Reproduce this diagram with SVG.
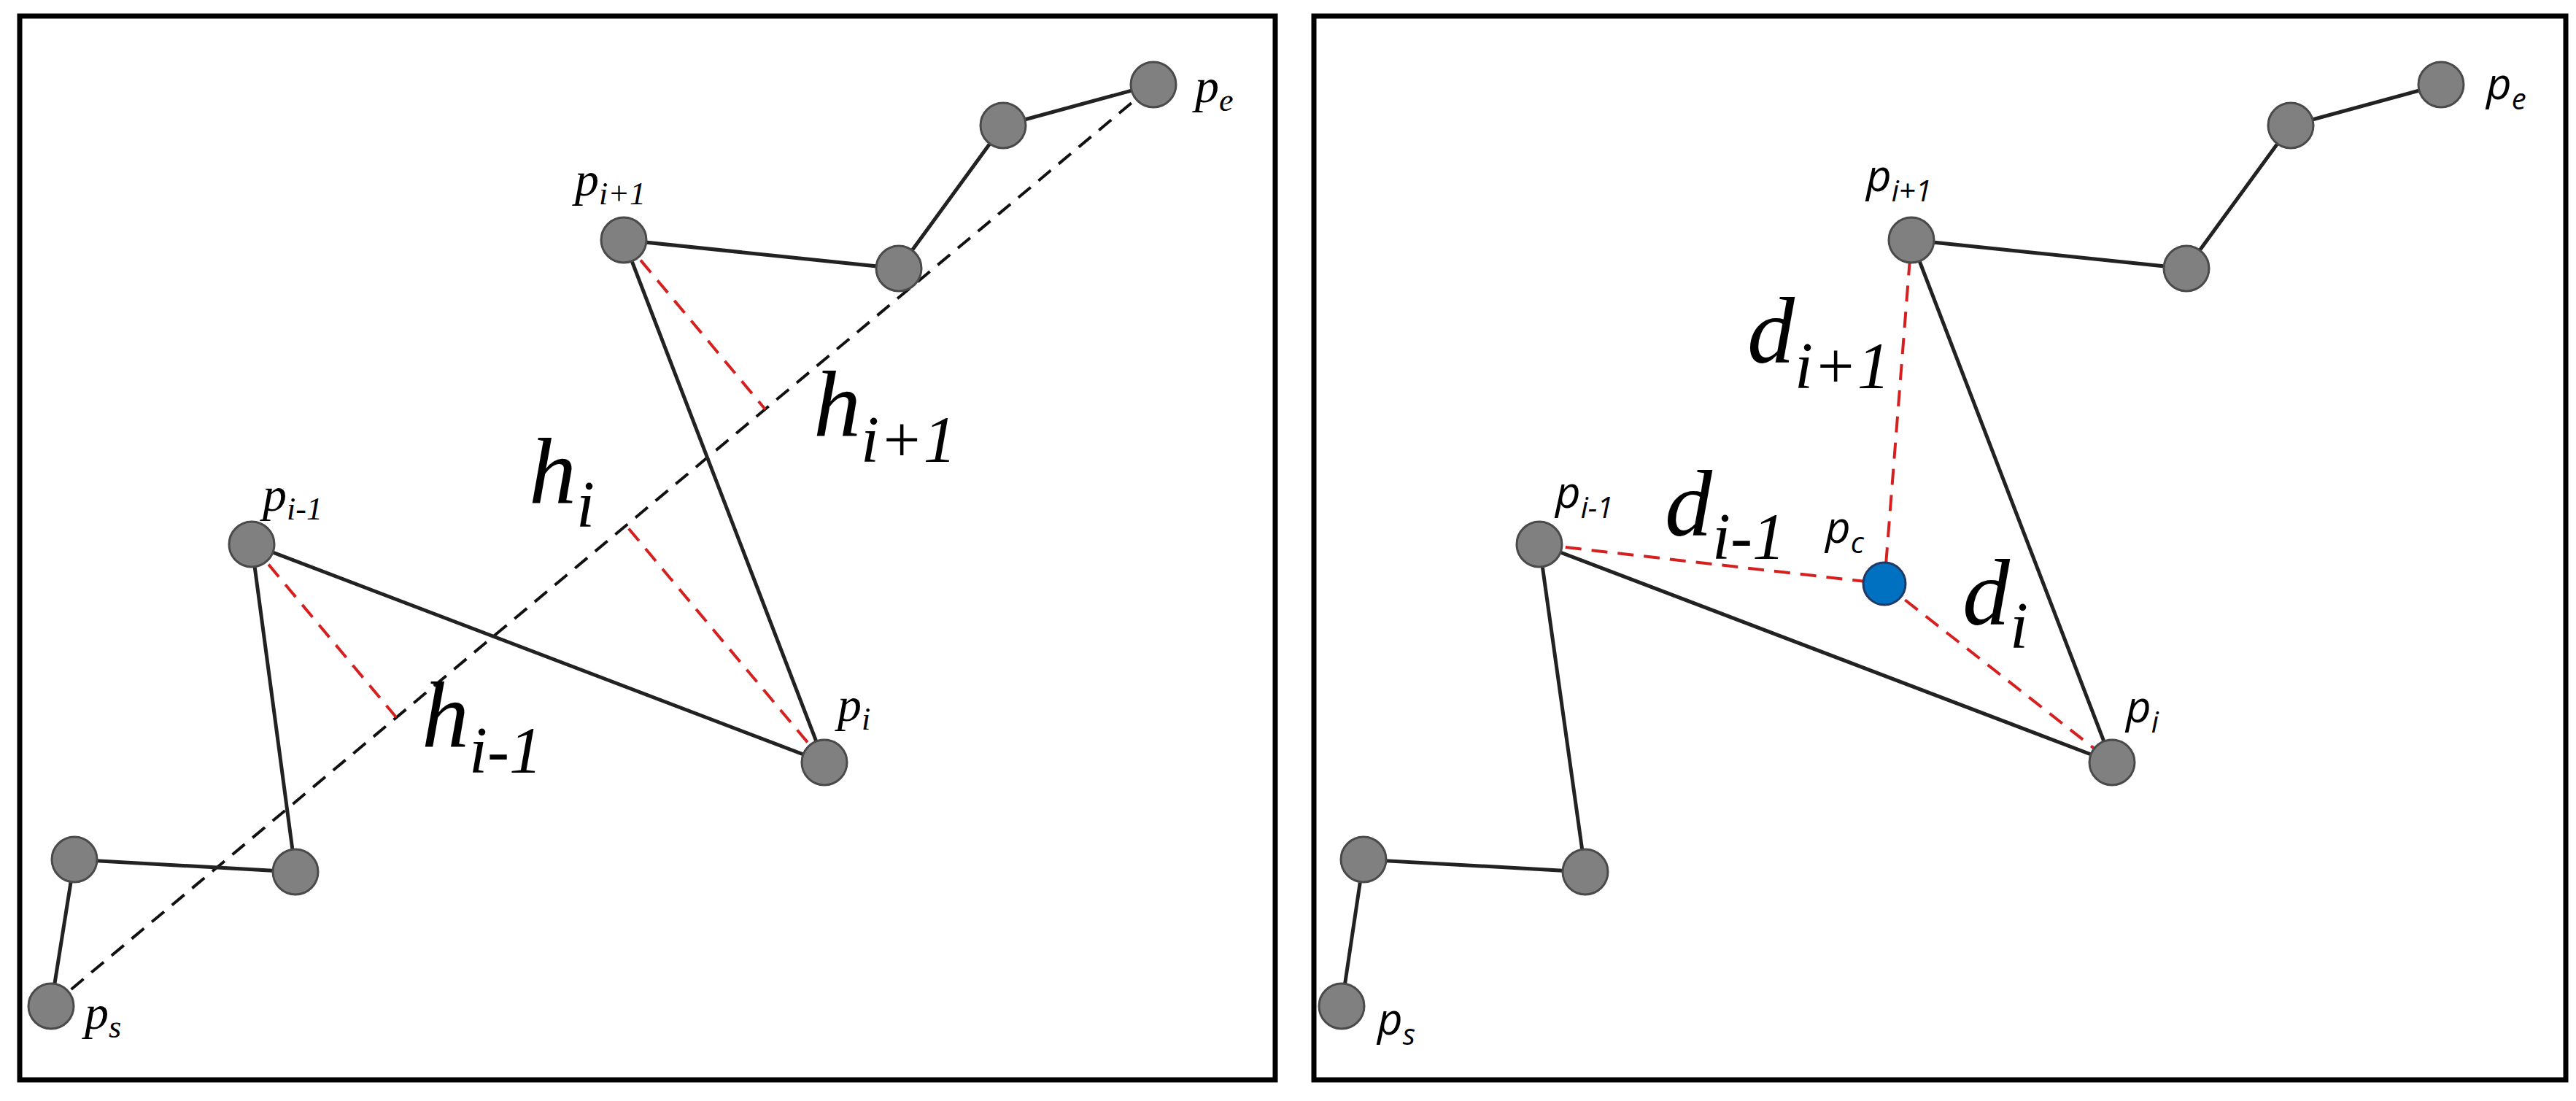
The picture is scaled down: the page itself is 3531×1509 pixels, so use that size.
<svg xmlns="http://www.w3.org/2000/svg" width="3531" height="1509" viewBox="0 0 3531 1509">
<style>
.box{fill:none;stroke:#000;stroke-width:7}
.seg{stroke:#222;stroke-width:5;fill:none}
.bd{stroke:#111;stroke-width:4;stroke-dasharray:22 14;fill:none}
.rd{stroke:#d62020;stroke-width:4;stroke-dasharray:22 14;fill:none}
.n{fill:#808080;stroke:#4a4a4a;stroke-width:3}
.c{fill:#0070c0;stroke:#1f3864;stroke-width:3}
.ps{font-family:"Liberation Serif","Times New Roman",serif;font-style:italic;font-size:66px;fill:#000}
.pss{font-size:44px}
.h{font-family:"Liberation Serif","Times New Roman",serif;font-style:italic;font-size:130px;fill:#000}
.hs{font-size:90px}
.q{font-family:"Open Sans","Liberation Sans",sans-serif;font-style:italic;font-size:60px;fill:#000}
.qs{font-size:40px}
</style>
<rect width="3531" height="1509" fill="#fff"/>
<rect class="box" x="27" y="22" width="1721" height="1458"/>
<rect class="box" x="1801" y="22" width="1716" height="1458"/>
<g id="connectors">
<path class="bd" d="M70 1379 L1581 116"/>
<path class="seg" d="M70 1379 L102 1178 L405 1195 L345 746 L1130 1045 L855 329 L1232 368 L1375 172 L1581 116"/>
<path class="rd" d="M855 329 L1049 561"/>
<path class="rd" d="M1130 1045 L858 720"/>
<path class="rd" d="M345 746 L543 983"/>
<path class="seg" d="M1839 1379 L1869 1178 L2173 1195 L2110 746 L2895 1045 L2620 329 L2997 368 L3140 172 L3346 116"/>
<path class="rd" d="M2110 746 L2583 800 L2620 329 M2583 800 L2895 1045"/>
</g>
<g id="left-nodes">
<circle class="n" cx="70" cy="1379" r="31"/>
<circle class="n" cx="102" cy="1178" r="31"/>
<circle class="n" cx="405" cy="1195" r="31"/>
<circle class="n" cx="345" cy="746" r="31"/>
<circle class="n" cx="1130" cy="1045" r="31"/>
<circle class="n" cx="855" cy="329" r="31"/>
<circle class="n" cx="1232" cy="368" r="31"/>
<circle class="n" cx="1375" cy="172" r="31"/>
<circle class="n" cx="1581" cy="116" r="31"/>
</g>
<g id="right-nodes">
<circle class="n" cx="1839" cy="1379" r="31"/>
<circle class="n" cx="1869" cy="1178" r="31"/>
<circle class="n" cx="2173" cy="1195" r="31"/>
<circle class="n" cx="2110" cy="746" r="31"/>
<circle class="n" cx="2895" cy="1045" r="31"/>
<circle class="n" cx="2620" cy="329" r="31"/>
<circle class="n" cx="2997" cy="368" r="31"/>
<circle class="n" cx="3140" cy="172" r="31"/>
<circle class="n" cx="3346" cy="116" r="31"/>
<circle class="c" cx="2583" cy="800" r="29"/>
</g>
<g id="left-labels">
<text class="ps" x="1638" y="140">p<tspan class="pss" dy="12">e</tspan></text>
<text class="ps" x="788" y="268">p<tspan class="pss" dy="12">i+1</tspan></text>
<text class="ps" x="360" y="700">p<tspan class="pss" dy="12">i-1</tspan></text>
<text class="ps" x="1148" y="988">p<tspan class="pss" dy="12">i</tspan></text>
<text class="ps" x="116" y="1410">p<tspan class="pss" dy="12">s</tspan></text>
<text class="h" x="725" y="690">h<tspan class="hs" dy="32">i</tspan></text>
<text class="h" x="1115" y="598">h<tspan class="hs" dy="35">i+1</tspan></text>
<text class="h" x="578" y="1024">h<tspan class="hs" dy="35">i-1</tspan></text>
</g>
<g id="right-labels">
<text class="q" x="3408" y="136">p<tspan class="qs" dy="14">e</tspan></text>
<text class="q" x="2558" y="262">p<tspan class="qs" dy="14">i+1</tspan></text>
<text class="q" x="2132" y="696">p<tspan class="qs" dy="14">i-1</tspan></text>
<text class="q" x="2502" y="744">p<tspan class="qs" dy="14">c</tspan></text>
<text class="q" x="2914" y="990">p<tspan class="qs" dy="14">i</tspan></text>
<text class="q" x="1888" y="1418">p<tspan class="qs" dy="14">s</tspan></text>
<text class="h" x="2395" y="497">d<tspan class="hs" dy="35">i+1</tspan></text>
<text class="h" x="2282" y="734">d<tspan class="hs" dy="32">i-1</tspan></text>
<text class="h" x="2690" y="856">d<tspan class="hs" dy="32">i</tspan></text>
</g>
</svg>
